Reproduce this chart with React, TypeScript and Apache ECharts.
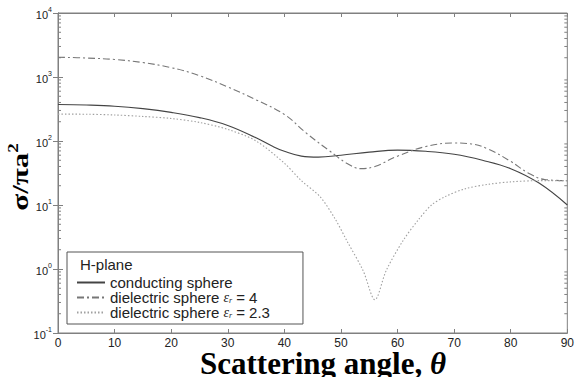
import React, { useEffect, useRef } from "react";
import * as echarts from "echarts";

// ---- data ----
const xTicks = [0, 10, 20, 30, 40, 50, 60, 70, 80, 90];
const yMin = 0.1;
const yMax = 10000;

const condAngles = [0, 5, 10, 15, 20, 25, 30, 35, 38, 40, 43, 46, 50, 55, 60, 65, 70, 75, 80, 85, 90];
const condValues = [372, 365, 350, 320, 280, 232, 175, 112, 82, 69, 58, 56, 60, 67, 72, 69, 62, 50, 37, 22, 10];

const diel4Angles = [0, 5, 10, 15, 20, 25, 30, 35, 40, 44, 48, 51, 53.5, 56, 60, 65, 70, 73, 76, 80, 83, 86, 90];
const diel4Values = [2040, 1980, 1880, 1680, 1400, 1050, 700, 440, 260, 130, 70, 45, 37, 40, 58, 82, 93, 90, 75, 48, 32, 25, 24];

const diel23Angles = [0, 5, 10, 15, 20, 25, 30, 35, 40, 43, 46.3, 49, 51, 53.9, 56, 58, 61, 63.7, 66, 68.4, 72, 76, 80, 85, 90];
const diel23Values = [263, 262, 255, 242, 225, 195, 152, 100, 45, 24, 13.5, 6, 2.8, 0.95, 0.33, 0.95, 2.8, 5.9, 10, 13.5, 18, 21, 23, 24, 24];

const seriesNames = ["conducting sphere", "dielectric sphere εr = 4", "dielectric sphere εr = 2.3"];
const legendTitle = "H-plane";
const xTitle = "Scattering angle, ";
const yTitle = "σ/πa";

const minorMultipliers = [2, 3, 4, 5, 6, 7, 8, 9];
const decades = [-1, 0, 1, 2, 3];

const pairs = (xs: number[], ys: number[]) => xs.map((x, i) => [x, ys[i]]);

export default function App() {
  const ref = useRef<HTMLDivElement>(null);
  useEffect(() => {
    const chart = echarts.init(ref.current!, null, { renderer: "svg" });
    const minorVals: number[][] = [];
    decades.forEach((d) =>
      minorMultipliers.forEach((m) => minorVals.push([0, m * Math.pow(10, d)]))
    );
    const axisColor = "#808080";
    const sans = "'Liberation Sans', Arial, sans-serif";
    const serif = "'Liberation Serif', 'Times New Roman', serif";
    chart.setOption({
      animation: false,
      backgroundColor: "#ffffff",
      grid: {
        left: 58,
        right: 4,
        top: 13,
        bottom: 44,
        show: true,
        borderColor: axisColor,
        borderWidth: 1,
      },
      xAxis: [
        {
          type: "value",
          min: xTicks[0],
          max: xTicks[xTicks.length - 1],
          interval: 10,
          axisLine: { show: true, lineStyle: { color: axisColor } },
          axisTick: { show: true, inside: true, length: 4, lineStyle: { color: axisColor } },
          axisLabel: { fontSize: 12, color: "#222", fontFamily: sans, margin: 4 },
          splitLine: { show: false },
        },
        {
          type: "value",
          position: "top",
          min: xTicks[0],
          max: xTicks[xTicks.length - 1],
          interval: 10,
          axisLine: { show: true, lineStyle: { color: axisColor } },
          axisTick: { show: true, inside: true, length: 4, lineStyle: { color: axisColor } },
          axisLabel: { show: false },
          splitLine: { show: false },
        },
      ],
      yAxis: [
        {
          type: "log",
          logBase: 10,
          min: yMin,
          max: yMax,
          axisLine: { show: true, lineStyle: { color: axisColor } },
          axisTick: { show: true, inside: true, length: 5, lineStyle: { color: axisColor } },
          splitLine: { show: false },
          axisLabel: {
            margin: 6,
            color: "#222",
            fontFamily: sans,
            formatter: (v: number) => `{b|10}{s|${Math.round(Math.log10(v))}}`,
            rich: {
              b: { fontSize: 11, fontFamily: sans, color: "#222", verticalAlign: "bottom" },
              s: { fontSize: 7, fontFamily: sans, color: "#222", verticalAlign: "top", padding: [0, 0, 7, 0] },
            },
          },
        },
        {
          type: "log",
          logBase: 10,
          min: yMin,
          max: yMax,
          position: "right",
          axisLine: { show: true, lineStyle: { color: axisColor } },
          axisTick: { show: true, inside: true, length: 5, lineStyle: { color: axisColor } },
          axisLabel: { show: false },
          splitLine: { show: false },
        },
      ],
      legend: {
        left: 67,
        top: 252,
        orient: "vertical",
        backgroundColor: "#ffffff",
        borderColor: "#555",
        borderWidth: 1,
        borderRadius: 0,
        padding: [23, 33, 4, 9],
        itemWidth: 28,
        itemHeight: 10,
        itemGap: 0,
        data: seriesNames,
        itemStyle: { opacity: 0 },
        textStyle: {
          fontSize: 15,
          fontFamily: sans,
          color: "#222",
          lineHeight: 14,
          rich: {
            e: { fontSize: 14, fontStyle: "italic", fontFamily: serif, color: "#222", lineHeight: 14 },
            r: { fontSize: 8, fontStyle: "italic", fontFamily: serif, color: "#222", verticalAlign: "bottom", lineHeight: 14 },
          },
        },
        formatter: (name: string) => {
          if (name.indexOf("εr") >= 0) {
            const parts = name.split("εr");
            return `${parts[0]}{e|ε}{r|r}${parts[1]}`;
          }
          return name;
        },
      },
      graphic: [
        {
          type: "text",
          left: 80,
          top: 257,
          z: 100,
          style: { text: legendTitle, fontSize: 15, fontFamily: sans, fill: "#222" },
        },
        {
          type: "text",
          x: 323,
          y: 363,
          style: {
            text: `{t|${xTitle}}{i|θ}`,
            align: "center",
            verticalAlign: "middle",
            rich: {
              t: { fontSize: 31, fontWeight: "bold", fontFamily: serif, fill: "#000" },
              i: { fontSize: 31, fontWeight: "bold", fontStyle: "italic", fontFamily: serif, fill: "#000" },
            },
          },
        },
        {
          type: "text",
          x: 19,
          y: 177,
          rotation: Math.PI / 2,
          scaleY: 0.76,
          style: {
            text: `{t|${yTitle}}{s|2}`,
            align: "center",
            verticalAlign: "middle",
            rich: {
              t: { fontSize: 31, fontWeight: "bold", fontFamily: serif, fill: "#000", verticalAlign: "bottom" },
              s: { fontSize: 19, fontWeight: "bold", fontFamily: serif, fill: "#000", verticalAlign: "top", padding: [0, 0, 14, 0] },
            },
          },
        },
      ],
      series: [
        {
          name: seriesNames[0],
          type: "line",
          data: pairs(condAngles, condValues),
          smooth: 0.4,
          symbol: "none",
          lineStyle: { color: "#444", width: 1.1, type: "solid" },
          itemStyle: { color: "#444" },
        },
        {
          name: seriesNames[1],
          type: "line",
          data: pairs(diel4Angles, diel4Values),
          smooth: 0.4,
          symbol: "none",
          lineStyle: { color: "#777", width: 1.1, type: [7, 3, 2, 3] },
          itemStyle: { color: "#777" },
        },
        {
          name: seriesNames[2],
          type: "line",
          data: pairs(diel23Angles, diel23Values),
          smooth: 0.3,
          symbol: "none",
          lineStyle: { color: "#a0a0a0", width: 1.1, type: [1.5, 2] },
          itemStyle: { color: "#a0a0a0" },
        },
        {
          type: "custom",
          silent: true,
          xAxisIndex: 0,
          yAxisIndex: 0,
          encode: { x: 0, y: 1 },
          data: minorVals,
          renderItem: (params: any, api: any) => {
            const v = api.value(1);
            const pL = api.coord([xTicks[0], v]);
            const pR = api.coord([xTicks[xTicks.length - 1], v]);
            return {
              type: "group",
              children: [
                { type: "line", shape: { x1: pL[0], y1: pL[1], x2: pL[0] + 3, y2: pL[1] }, style: { stroke: axisColor, lineWidth: 1 } },
                { type: "line", shape: { x1: pR[0] - 3, y1: pR[1], x2: pR[0], y2: pR[1] }, style: { stroke: axisColor, lineWidth: 1 } },
              ],
            };
          },
        },
      ],
    });
    return () => chart.dispose();
  }, []);
  return <div ref={ref} style={{ position: "fixed", left: 0, top: 0, width: 577, height: 377 }} />;
}
